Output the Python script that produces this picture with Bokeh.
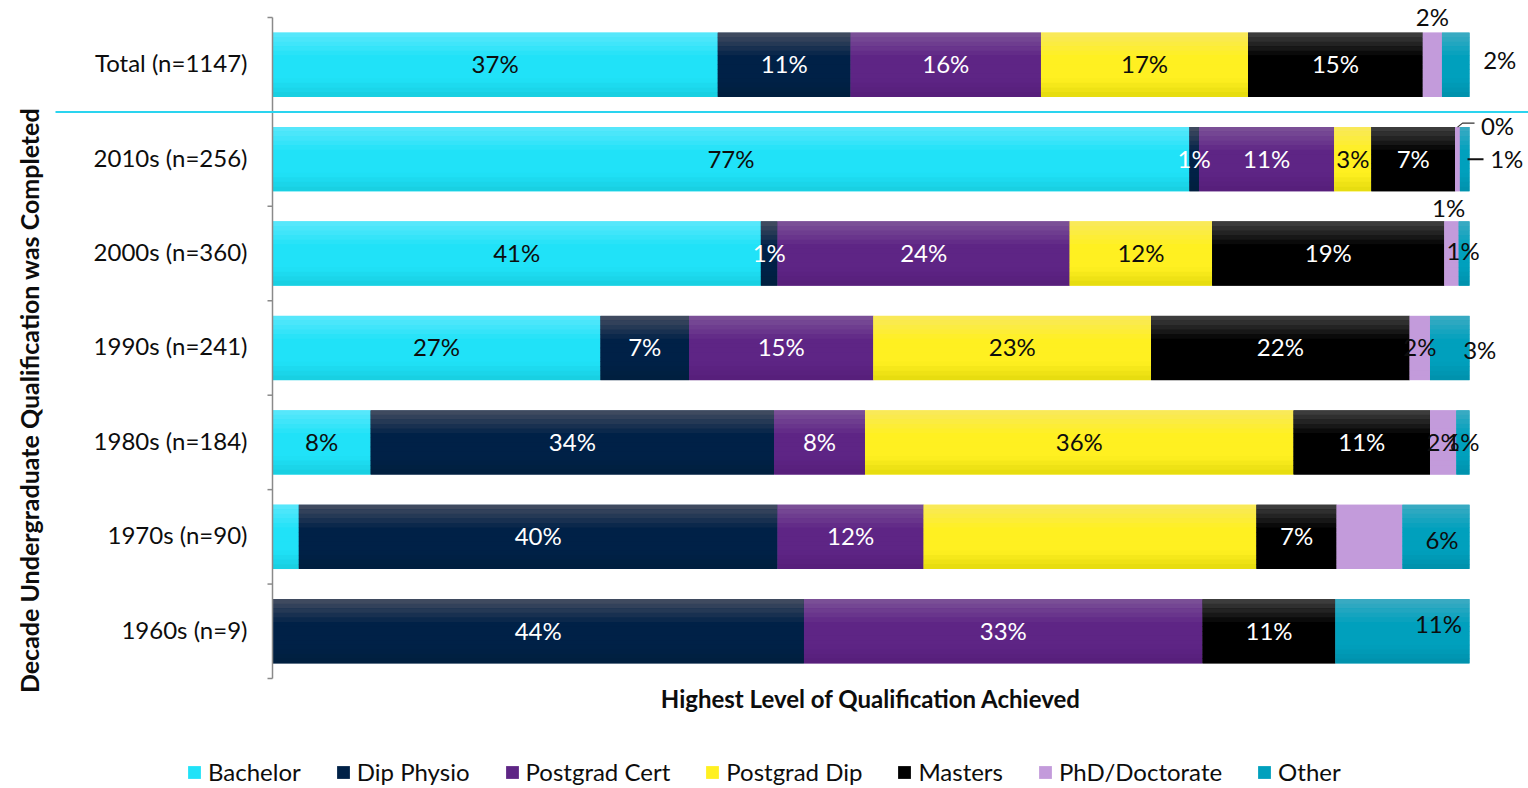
import numpy as np
from bokeh.plotting import figure
from bokeh.models import Range1d, ColumnDataSource, Legend, LegendItem
from bokeh.core.properties import value
from bokeh.embed import file_html
from bokeh.resources import INLINE

# ---------------- data (percent of each row) ----------------
categories = ["Total (n=1147)", "2010s (n=256)", "2000s (n=360)", "1990s (n=241)",
              "1980s (n=184)", "1970s (n=90)", "1960s (n=9)"]
series_names = ["Bachelor", "Dip Physio", "Postgrad Cert", "Postgrad Dip",
                "Masters", "PhD/Doctorate", "Other"]
bachelor = [37.2, 76.6, 40.8, 27.4, 8.2, 2.2, 0.0]
dip_physio = [11.1, 0.8, 1.4, 7.4, 33.7, 40.0, 44.4]
postgrad_cert = [15.9, 11.3, 24.4, 15.4, 7.6, 12.2, 33.3]
postgrad_dip = [17.3, 3.1, 11.9, 23.2, 35.8, 27.8, 0.0]
masters = [14.6, 7.0, 19.4, 21.6, 11.4, 6.7, 11.1]
phd = [1.6, 0.4, 1.2, 1.7, 2.2, 5.5, 0.0]
other = [2.3, 0.8, 0.9, 3.3, 1.1, 5.6, 11.2]
x_title = "Highest Level of Qualification Achieved"
y_title = "Decade Undergraduate Qualification was Completed"

series_values = [bachelor, dip_physio, postgrad_cert, postgrad_dip, masters, phd, other]

# ---------------- style ----------------
FONT = "Lato"
FS = "24px"
W, H = 1528, 788
PX_X = 11.97      # pixels per percent
PX_Y = 94.43      # pixels per row
X0_PX = 272       # frame pixel of 0 %
ROW0_PX = 64.2    # frame pixel of first row centre
BAR_H = 0.678
TXT_DY = -1       # small vertical nudge for text

# (top, main, bottom) gradient colours
grad = [
    ("#5ce8fb", "#20e2f8", "#18cddf"),
    ("#454e62", "#002147", "#001f3e"),
    ("#7d5398", "#5e2585", "#561e79"),
    ("#f8e85e", "#fff021", "#e4da0e"),
    ("#424242", "#000000", "#000000"),
    ("#c39bdb", "#c39bdb", "#c39bdb"),
    ("#3eabc3", "#00a0bd", "#0090ab"),
]
label_colors = ["#0d0d0d", "white", "white", "#0d0d0d", "white", "#0d0d0d", "#0d0d0d"]

# labels not shown in the original (row, series)
hidden = {(5, 0), (5, 3), (5, 5)}
# pixel offsets of labels that Excel moved (row, series): (dx, dy)
moved = {(0, 5): (0, -47), (0, 6): (44, -4),
         (1, 5): (40, -33), (1, 6): (42, 0),
         (2, 5): (-3, -45), (2, 6): (-1, -2),
         (3, 6): (30, 3),
         (5, 6): (6, 4),
         (6, 6): (36, -7)}

x_start = -X0_PX / PX_X
x_end = x_start + W / PX_X
y_top = -ROW0_PX / PX_Y
y_bot = y_top + H / PX_Y

p = figure(width=W, height=H, output_backend="svg", toolbar_location=None,
           x_range=Range1d(x_start, x_end), y_range=Range1d(y_bot, y_top),
           x_axis_type=None, y_axis_type=None, min_border=0,
           outline_line_color=None)
p.xgrid.visible = False
p.ygrid.visible = False
p.background_fill_color = "white"


def hex2rgb(h):
    h = h.lstrip("#")
    return np.array([int(h[i:i + 2], 16) for i in (0, 2, 4)], dtype=float)


def rgb2hex(c):
    c = np.clip(np.round(c), 0, 255).astype(int)
    return "#%02x%02x%02x" % tuple(c)


def grad_color(t, top, main, bot):
    stops = [(0.0, hex2rgb(top)), (0.38, hex2rgb(main)), (0.72, hex2rgb(main)), (1.0, hex2rgb(bot))]
    for (t0, c0), (t1, c1) in zip(stops[:-1], stops[1:]):
        if t <= t1:
            f = (t - t0) / (t1 - t0) if t1 > t0 else 0
            return rgb2hex(c0 + (c1 - c0) * f)
    return rgb2hex(stops[-1][1])


rows = list(range(len(categories)))
vals = np.array(series_values)  # series x rows
cum = np.cumsum(vals, axis=0)
lefts = cum - vals

NS = 14
base_renderers = []
lab_x, lab_y, lab_t, lab_c, lab_dx, lab_dy = [], [], [], [], [], []
for s, name in enumerate(series_names):
    top, main, bot = grad[s]
    src = ColumnDataSource(dict(y=rows, left=list(lefts[s]), right=list(cum[s])))
    r = p.hbar(y="y", left="left", right="right", height=BAR_H, source=src,
               fill_color=main, line_color=None)
    base_renderers.append(r)
    ys, ls, rs, cs = [], [], [], []
    for row in rows:
        if vals[s][row] <= 0:
            continue
        for k in range(NS):
            t = (k + 0.5) / NS
            ys.append(row - BAR_H / 2 + (k + 0.5) * BAR_H / NS)
            ls.append(lefts[s][row])
            rs.append(cum[s][row])
            cs.append(grad_color(t, top, main, bot))
    p.hbar(y=ys, left=ls, right=rs, height=BAR_H / NS * 1.08, fill_color=cs, line_color=None)
    for row in rows:
        v = vals[s][row]
        if v <= 0 or (row, s) in hidden:
            continue
        dx, dy = moved.get((row, s), (0, 0))
        lab_x.append((lefts[s][row] + cum[s][row]) / 2)
        lab_y.append(row)
        lab_t.append("%d%%" % int(v + 0.5))
        lab_c.append(label_colors[s])
        lab_dx.append(dx)
        lab_dy.append(dy + TXT_DY)

p.text(x="x", y="y", text="t", text_color="c", x_offset="dx", y_offset="dy",
       source=ColumnDataSource(dict(x=lab_x, y=lab_y, t=lab_t, c=lab_c, dx=lab_dx, dy=lab_dy)),
       text_font=value(FONT), text_font_size=FS, text_align="center", text_baseline="middle")

# leader lines for the 2010s PhD / Other labels
phd_mid = (lefts[5][1] + cum[5][1]) / 2
p.line(x=[phd_mid, phd_mid + 5 / PX_X, phd_mid + 17 / PX_X],
       y=[1 - 32 / PX_Y, 1 - 36 / PX_Y, 1 - 36 / PX_Y], line_color="#333333", line_width=1.2)
p.line(x=[cum[6][1] - 2 / PX_X, cum[6][1] + 14 / PX_X], y=[1, 1], line_color="#111111", line_width=2)

# category axis
p.line(x=[0, 0], y=[-0.5, len(categories) - 0.5], line_color="#8a8a8a", line_width=1.5)
bounds = [i - 0.5 for i in range(len(categories) + 1)]
p.segment(x0=[-5 / PX_X] * len(bounds), x1=[0] * len(bounds), y0=bounds, y1=bounds,
          line_color="#8a8a8a", line_width=1.5)
p.text(x=[0] * len(categories), y=rows, text=categories, x_offset=-25, y_offset=-2,
       text_font=value(FONT), text_font_size=FS, text_align="right", text_baseline="middle",
       text_color="#0d0d0d")

# separator under Total
p.line(x=[(55 - X0_PX) / PX_X, x_end], y=[0.5, 0.5], line_color="#2ad4ef", line_width=2)

# axis titles
p.text(x=[50], y=[len(categories) - 0.5 + 20 / PX_Y], text=[x_title],
       text_font=value(FONT), text_font_size=FS, text_font_style="bold",
       text_align="center", text_baseline="middle", text_color="#0d0d0d")
p.text(x=[(28 - X0_PX) / PX_X], y=[3.556], text=[y_title], angle=np.pi / 2,
       text_font=value(FONT), text_font_size="25px", text_font_style="bold",
       text_align="center", text_baseline="middle", text_color="#0d0d0d")

legend = Legend(items=[LegendItem(label=n, renderers=[r]) for n, r in zip(series_names, base_renderers)],
                orientation="horizontal", location=(186, 2),
                label_text_font=FONT, label_text_font_size=FS, label_text_color="#0d0d0d",
                glyph_width=16, glyph_height=16, spacing=34, label_standoff=6,
                padding=0, margin=0, border_line_alpha=0, background_fill_alpha=0)
p.add_layout(legend)

open("out.html", "w").write(file_html(p, INLINE))
